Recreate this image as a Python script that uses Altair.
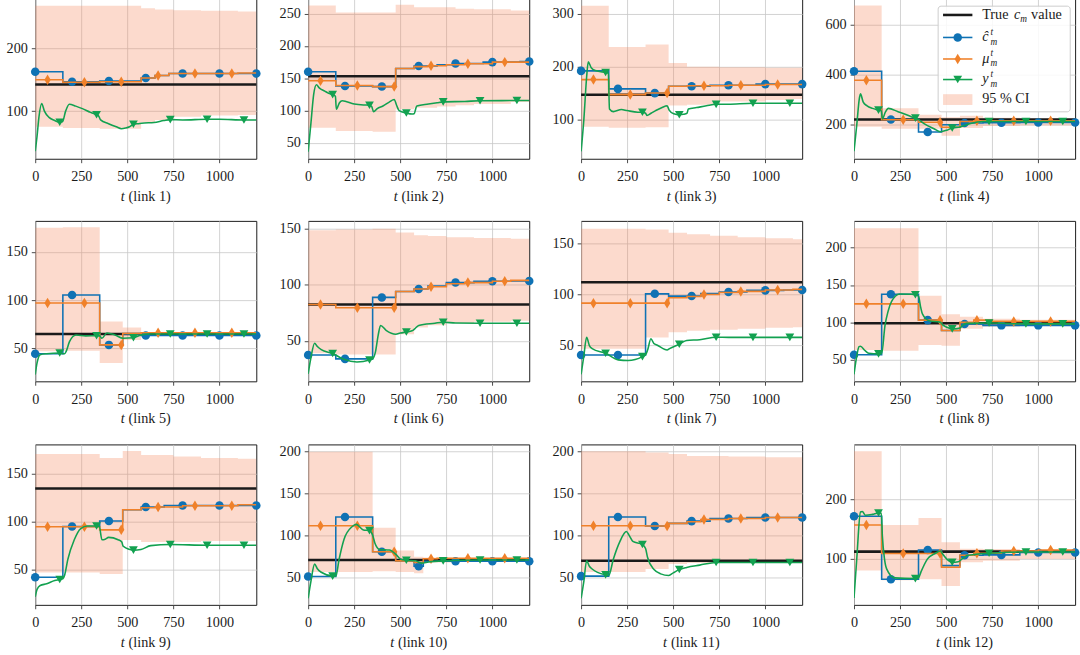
import altair as alt
import pandas as pd

# ---------------- data ----------------
T_MAX = 1200
X_TICKS = [0, 250, 500, 750, 1000]
CHAT_MARK_T = [0, 200, 400, 600, 800, 1000, 1200]
MU_MARK_T = [67, 267, 467, 667, 867, 1067]
Y_MARK_T = [133, 333, 533, 733, 933, 1133]

Y_DOMAINS = [[24, 280], [25, 274], [26, 329], [64, 704], [16, 182], [14, 157],
             [15, 172], [21, 236], [14, 180], [17, 208], [17, 208], [21, 294]]
Y_TICKS = [[100, 200], [50, 100, 150, 200, 250], [100, 200, 300], [200, 400, 600],
           [50, 100, 150], [50, 100, 150], [50, 100, 150], [50, 100, 150, 200],
           [50, 100, 150], [50, 100, 150, 200], [50, 100, 150, 200], [100, 200]]

TRUE_C = [142.5, 153, 147, 221, 65, 82.5, 112, 98.7, 134.5, 70.5, 69.4, 111.6]

# c-hat step breakpoints (t, value)
CHAT_STEPS = [
    [(0, 163), (150, 147), (350, 148), (575, 153), (650, 157), (725, 160)],
    [(0, 160), (150, 138), (350, 137), (475, 165), (575, 169), (700, 171), (800, 173), (950, 175), (1150, 176)],
    [(0, 192), (150, 158), (350, 150), (475, 163), (700, 165), (950, 167)],
    [(0, 413), (150, 221), (350, 171), (475, 200), (575, 207), (700, 208), (900, 209)],
    [(0, 44.6), (150, 105.4), (350, 53.7), (475, 65), (575, 63.5)],
    [(0, 37.4), (150, 34), (350, 88.8), (475, 94), (575, 96.3), (650, 99), (750, 102), (900, 103.2), (1100, 103.4)],
    [(0, 40.8), (350, 100.6), (475, 98.4), (650, 101), (750, 102.5), (900, 104), (1100, 104.4)],
    [(0, 56.5), (150, 137.8), (350, 103), (475, 89), (575, 97.8), (700, 96)],
    [(0, 42.6), (150, 95), (350, 100.7), (475, 112.5), (575, 115.2), (700, 116.9)],
    [(0, 50.8), (150, 121.7), (350, 80.2), (475, 69.4), (575, 63), (625, 69)],
    [(0, 51.2), (150, 121.7), (350, 110.9), (475, 114), (575, 116.7), (700, 119.8), (900, 121)],
    [(0, 171.8), (150, 64.6), (350, 114.4), (475, 87.8), (575, 105.5), (700, 106), (900, 110)],
]

# mu step breakpoints (t, value)
MU_STEPS = [
    [(0, 150), (150, 146), (350, 147), (575, 153), (650, 157), (725, 160), (1100, 161)],
    [(0, 146), (150, 138.6), (350, 137), (475, 165), (575, 168), (650, 169.5), (750, 171), (850, 172.5), (1000, 175)],
    [(0, 175.5), (150, 147.2), (350, 150.3), (475, 163), (575, 164), (800, 165), (1000, 166.3)],
    [(0, 377), (150, 219.5), (350, 210), (475, 190), (575, 213), (650, 216)],
    [(0, 97), (350, 53.7), (475, 65.5), (575, 66.2)],
    [(0, 82.5), (150, 79.6), (475, 94), (575, 96.3), (650, 98.3), (750, 101), (850, 102), (1000, 103.2), (1100, 104)],
    [(0, 91.5), (475, 96.8), (575, 98), (650, 100), (750, 102), (850, 103), (1000, 104.4), (1150, 105)],
    [(0, 124.8), (350, 103), (475, 89), (575, 100), (650, 103), (750, 101.3)],
    [(0, 94.9), (350, 91.6), (475, 112.5), (575, 114.5), (650, 115.2), (800, 116.6), (1100, 117.6)],
    [(0, 111.2), (350, 80.2), (475, 69.4), (575, 67.4), (625, 72), (700, 72.5)],
    [(0, 111.2), (350, 110.9), (475, 114), (575, 116), (650, 118.6), (800, 119.8), (1000, 121)],
    [(0, 157), (150, 108.3), (475, 85), (575, 105.5), (650, 108.8), (800, 112.7), (1000, 114.4)],
]

# 95 % CI step breakpoints (t, lower, upper)
CI_STEPS = [
    [(0, 75, 268), (150, 73, 268), (350, 72, 268), (575, 82, 264), (650, 86, 262), (750, 91, 261), (900, 93, 260), (1100, 94, 259)],
    [(0, 73, 263), (150, 68, 252), (350, 67, 252), (475, 102, 264), (575, 104, 260), (700, 106, 260), (800, 108, 258), (900, 110, 257), (1100, 113, 255)],
    [(0, 86.5, 315), (150, 84.7, 237), (350, 85.3, 242), (475, 126.4, 207), (575, 128, 200), (750, 134, 199), (1000, 137, 198), (1150, 139, 198)],
    [(0, 192, 675), (150, 184, 266), (350, 184, 240), (475, 156, 230), (575, 187, 236), (700, 195, 228), (900, 197, 224)],
    [(0, 47, 175), (150, 47.6, 175.3), (350, 35, 78), (475, 58.8, 71.6), (575, 62.8, 67)],
    [(0, 39, 148.6), (150, 38, 149.4), (350, 38, 150), (475, 56, 146.6), (575, 62, 144.3), (650, 64, 143.5), (750, 66, 142.5), (900, 67, 141.8), (1100, 68, 141)],
    [(0, 47, 164.2), (350, 58, 163.6), (475, 63, 160.4), (575, 64.6, 159), (700, 65.5, 157.5), (850, 66.5, 156), (1000, 67.5, 155), (1150, 68, 154)],
    [(0, 63, 226), (150, 62, 226), (350, 69.6, 135.7), (475, 68.7, 111), (575, 91.3, 107.4), (700, 94, 105), (900, 95.6, 103.5)],
    [(0, 47.6, 170), (350, 46, 166), (475, 81, 173.3), (575, 79, 169), (750, 79, 167.5), (900, 80, 166), (1100, 80, 165.2)],
    [(0, 56, 199.2), (350, 57, 108.9), (475, 56, 81.8), (575, 54.7, 74.4), (625, 67.4, 73.3), (800, 68, 72.5)],
    [(0, 56, 200), (350, 59.7, 198.4), (475, 65.5, 196.5), (575, 66.7, 194.2), (800, 67, 193.5), (1000, 67.4, 192.6)],
    [(0, 79.6, 282.3), (150, 63, 157), (350, 64.6, 169), (475, 53, 127.6), (575, 93.4, 116.6), (700, 96, 116), (900, 99, 114)],
]

# y_m^t curves (t, value)
Y_CURVES = [
    [(0, 36), (10, 60), (20, 90), (35, 112), (50, 100), (75, 90), (106, 85), (133, 82.4), (148, 83), (165, 100), (185, 111), (220, 108), (256, 104), (300, 98), (333, 94.3), (345, 92), (355, 86), (398, 80), (440, 75), (468, 72), (490, 73), (512, 75), (533, 79), (560, 80), (592, 81), (645, 82), (698, 85), (733, 86.5), (800, 86), (933, 87), (1000, 87), (1133, 86), (1200, 86)],
    [(0, 36), (15, 80), (30, 125), (45, 140), (60, 135), (90, 130), (106, 127.5), (133, 124.5), (148, 122), (153, 102), (170, 112), (185, 115), (250, 110), (300, 108.5), (333, 108.2), (345, 106), (355, 98), (375, 103), (406, 107), (440, 113), (467, 117), (480, 108), (494, 99.6), (533, 96), (564, 94.5), (575, 95), (590, 107), (653, 110), (700, 112), (733, 113.3), (850, 114), (933, 115), (1133, 115.4), (1200, 115.5)],
    [(0, 40), (15, 100), (30, 180), (39, 209), (55, 198), (78, 192.6), (133, 189), (148, 188), (154, 120), (175, 115), (219, 119), (250, 117), (308, 114), (333, 114), (350, 112), (357, 108), (380, 112), (405, 117), (440, 123), (467, 126), (478, 118), (503, 111), (533, 109.2), (556, 110), (575, 112), (582, 120), (627, 122.7), (680, 126), (733, 128.8), (800, 129), (933, 131), (1133, 131), (1200, 131)],
    [(0, 94), (15, 200), (30, 310), (35, 323), (50, 290), (71, 275), (100, 265), (133, 258), (148, 255), (154, 223), (170, 250), (186, 265), (239, 252), (274, 243), (310, 232), (333, 226), (350, 220), (380, 204), (434, 184), (469, 172), (504, 178), (533, 187), (575, 191), (628, 204), (700, 213), (733, 213), (933, 213), (1133, 213), (1200, 213)],
    [(0, 23), (10, 35), (27, 43.6), (62, 44.6), (133, 45.3), (150, 44.6), (160, 44.6), (168, 47), (186, 57), (221, 64), (274, 63), (333, 63.2), (350, 63), (362, 60.5), (389, 66), (433, 64), (477, 60.5), (533, 61), (574, 64), (620, 65), (733, 65), (933, 65), (1133, 65), (1200, 65)],
    [(0, 20.7), (15, 35), (35, 48), (50, 45), (71, 42.2), (133, 38.8), (194, 33.6), (265, 31.3), (333, 33), (350, 34), (365, 40), (380, 55), (393, 63.8), (423, 59.5), (476, 56), (500, 57), (533, 58), (564, 59), (580, 61), (600, 63.8), (688, 65.8), (733, 66.7), (800, 66), (933, 65.8), (1133, 65.8), (1200, 65.8)],
    [(0, 21.8), (15, 40), (30, 58.2), (45, 50), (60, 47), (133, 42.4), (202, 36), (255, 35.4), (333, 39.2), (350, 41), (361, 45.6), (379, 56.6), (395, 52), (414, 50.3), (467, 45.6), (480, 47), (533, 51.3), (573, 55), (644, 55.7), (733, 58.2), (800, 58), (933, 58), (1133, 58), (1200, 58)],
    [(0, 30.4), (15, 55), (27, 67.4), (35, 68), (60, 62), (80, 58.7), (133, 57.8), (150, 58), (168, 95.6), (185, 115), (204, 128), (248, 138), (310, 137.8), (333, 137), (350, 135), (362, 120), (372, 111), (407, 102.2), (469, 100), (480, 97), (504, 93.5), (533, 91.3), (575, 92.6), (590, 96), (611, 98.7), (733, 99.1), (933, 98), (1133, 98), (1200, 98)],
    [(0, 22.3), (10, 30), (27, 34), (62, 35.8), (106, 39.2), (133, 40.2), (150, 41), (160, 45), (177, 61), (212, 81.4), (247, 93), (283, 95.6), (333, 95.6), (348, 95), (362, 81.4), (380, 82), (398, 83.8), (450, 81.4), (470, 79), (477, 74.7), (533, 70.6), (574, 71.3), (627, 75.3), (733, 76.4), (933, 75.7), (1133, 75.7), (1200, 75.7)],
    [(0, 24.8), (15, 45), (35, 65.5), (50, 60), (71, 55.8), (133, 51.2), (150, 51), (168, 71.3), (194, 94.6), (238, 110), (261, 112.8), (300, 106.2), (333, 105.4), (350, 100), (362, 90.7), (388, 83), (441, 82.2), (476, 77.2), (503, 71.3), (533, 70.2), (582, 69.4), (617, 66.7), (653, 68), (733, 69.4), (933, 70.5), (1133, 70.5), (1200, 70.5)],
    [(0, 24.8), (15, 45), (30, 69.4), (45, 63), (60, 59.7), (133, 52.7), (150, 52), (175, 71.3), (211, 92.6), (246, 104.3), (260, 100), (281, 92.6), (333, 88.8), (350, 84), (361, 73.3), (396, 59), (432, 53.9), (476, 52), (500, 55), (533, 59), (573, 61.6), (644, 64.3), (733, 67.4), (933, 67.4), (1133, 67.4), (1200, 67.4)],
    [(0, 32.6), (15, 100), (35, 179), (45, 180), (62, 173.5), (100, 175), (133, 177.3), (148, 177), (154, 137.6), (165, 100), (177, 82.3), (221, 66.9), (333, 65.7), (350, 67), (363, 76.8), (398, 98.9), (442, 108.8), (469, 112.7), (480, 108), (504, 98.9), (533, 93.4), (566, 94.5), (590, 100), (611, 104.4), (664, 107.2), (733, 108.8), (933, 111), (1133, 111), (1200, 111)],
]

# ---------------- style ----------------
FONT = "Liberation Serif"
FS = 14.5
FS_SMALL = 9.5
TXT = "#1a1a1a"
BLUE = "#0f72b4"
ORANGE = "#f0812a"
GREEN = "#12a150"
CI_BASE = "#f4845a"
TRUE_COLOR = "#1a1a1a"
W, H = 226, 164
DIAMOND = "M0,-1L0.6,0L0,1L-0.6,0Z"
SZ_CIRCLE, SZ_DIAMOND, SZ_TRI = 76, 115, 80


def steps_df(steps, cols):
    rows = [list(r) for r in steps]
    if rows[-1][0] < T_MAX:
        rows.append([T_MAX] + rows[-1][1:])
    return pd.DataFrame(rows, columns=cols)


def step_value(steps, t):
    v = steps[0][1]
    for row in steps:
        if row[0] <= t:
            v = row[1]
    return v


ONE = pd.DataFrame({"k": [0]})


def txt(s, x, y, size=FS, style="normal", align="left"):
    return alt.Chart(ONE).mark_text(
        font=FONT, fontSize=size, fontStyle=style, align=align, baseline="middle", color=TXT
    ).encode(x=alt.value(x), y=alt.value(y), text=alt.value(s))


def legend_layers():
    lay = []
    lay.append(alt.Chart(ONE).mark_rect(fill="white", fillOpacity=0.85, stroke="#cccccc",
                                        strokeWidth=1, cornerRadius=3).encode(
        x=alt.value(86), x2=alt.value(221), y=alt.value(8), y2=alt.value(116)))
    rows_y = [17, 40, 62, 83, 103]
    x0, x1, xm, xl = 91, 121, 106, 131
    lay.append(alt.Chart(ONE).mark_rule(color=TRUE_COLOR, strokeWidth=2.6).encode(
        x=alt.value(x0), x2=alt.value(x1), y=alt.value(rows_y[0])))
    lay += [txt("True", xl, rows_y[0]), txt("c", 163.5, rows_y[0], style="italic"),
            txt("m", 170, rows_y[0] + 4, size=FS_SMALL, style="italic"),
            txt("value", 181, rows_y[0])]
    series = [(BLUE, "circle", SZ_CIRCLE, "ĉ"), (ORANGE, DIAMOND, SZ_DIAMOND, "μ"),
              (GREEN, "triangle-down", SZ_TRI, "y")]
    for k, (col, shp, sz, sym) in enumerate(series):
        yy = rows_y[k + 1]
        lay.append(alt.Chart(ONE).mark_rule(color=col, strokeWidth=1.6).encode(
            x=alt.value(x0), x2=alt.value(x1), y=alt.value(yy)))
        lay.append(alt.Chart(ONE).mark_point(shape=shp, size=sz, filled=True, opacity=1, color=col).encode(
            x=alt.value(xm), y=alt.value(yy)))
        lay += [txt(sym, xl, yy, style="italic"),
                txt("t", xl + 8.5, yy - 6, size=FS_SMALL, style="italic"),
                txt("m", xl + 8.5, yy + 4.5, size=FS_SMALL, style="italic")]
    lay.append(alt.Chart(ONE).mark_rect(color=CI_BASE, opacity=0.3).encode(
        x=alt.value(x0), x2=alt.value(x1), y=alt.value(98), y2=alt.value(109)))
    lay.append(txt("95 % CI", xl, rows_y[4]))
    return lay


def make_panel(i):
    xs = alt.Scale(domain=[0, T_MAX], nice=False, zero=False)
    ys = alt.Scale(domain=Y_DOMAINS[i], nice=False, zero=False)
    xax = alt.Axis(values=X_TICKS, title=None, labelFlush=False, grid=True, format="d", labelPadding=7.5)
    yax = alt.Axis(values=Y_TICKS[i], title=None, grid=True, format="d")

    def X(f):
        return alt.X(f, type="quantitative", scale=xs, axis=xax)

    def Y(f):
        return alt.Y(f, type="quantitative", scale=ys, axis=yax)

    ci = steps_df(CI_STEPS[i], ["t", "lo", "hi"])
    band = alt.Chart(ci).mark_area(interpolate="step-after", color=CI_BASE, opacity=0.3, clip=True).encode(
        x=X("t"), y=Y("lo"), y2=alt.Y2("hi"))
    true = alt.Chart(pd.DataFrame({"c": [TRUE_C[i]]})).mark_rule(
        color=TRUE_COLOR, strokeWidth=2.6).encode(y=Y("c"))

    chat = steps_df(CHAT_STEPS[i], ["t", "v"])
    chat_pts = pd.DataFrame({"t": CHAT_MARK_T, "v": [step_value(CHAT_STEPS[i], t) for t in CHAT_MARK_T]})
    mu = steps_df(MU_STEPS[i], ["t", "v"])
    mu_pts = pd.DataFrame({"t": MU_MARK_T, "v": [step_value(MU_STEPS[i], t) for t in MU_MARK_T]})
    yc = pd.DataFrame(Y_CURVES[i], columns=["t", "v"])
    y_pts = yc[yc["t"].isin(Y_MARK_T)]

    layers = [band, true]
    for df, pts, col, shp, sz, interp in [
        (chat, chat_pts, BLUE, "circle", SZ_CIRCLE, "step-after"),
        (mu, mu_pts, ORANGE, DIAMOND, SZ_DIAMOND, "step-after"),
        (yc, y_pts, GREEN, "triangle-down", SZ_TRI, "monotone"),
    ]:
        layers.append(alt.Chart(df).mark_line(interpolate=interp, color=col, strokeWidth=1.6, clip=True).encode(
            x=X("t"), y=Y("v")))
        layers.append(alt.Chart(pts).mark_point(shape=shp, size=sz, filled=True, opacity=1, color=col).encode(
            x=X("t"), y=Y("v")))

    # axis title: italic t + (link N)
    lab = f"(link {i + 1})"
    wlab = 2.47 * FS + 0.5 * FS * len(str(i + 1))
    total = 0.28 * FS + 0.27 * FS + wlab
    start = W / 2 - total / 2
    layers.append(txt("t", start, H + 39, style="italic"))
    layers.append(txt(lab, start + 0.55 * FS, H + 39))
    if i == 3:
        layers += legend_layers()
    return alt.layer(*layers).properties(width=W, height=H)


panels = [make_panel(i) for i in range(12)]

chart = alt.concat(*panels, columns=4, spacing={"row": 16.5, "column": 17}).properties(
    padding={"left": 5, "top": -10, "right": 0, "bottom": 0}, background="white"
).configure_view(stroke="#1a1a1a", strokeWidth=1).configure_axis(
    labelFont=FONT, labelFontSize=FS, labelColor=TXT, tickColor=TXT, tickSize=4, tickWidth=0.8,
    domain=False, gridColor="#c6c6c6", gridWidth=0.8, labelPadding=3
).configure_axisY(minExtent=30, maxExtent=30, labelPadding=4)

chart.save("out.html", embed_options={"renderer": "svg", "actions": False})
